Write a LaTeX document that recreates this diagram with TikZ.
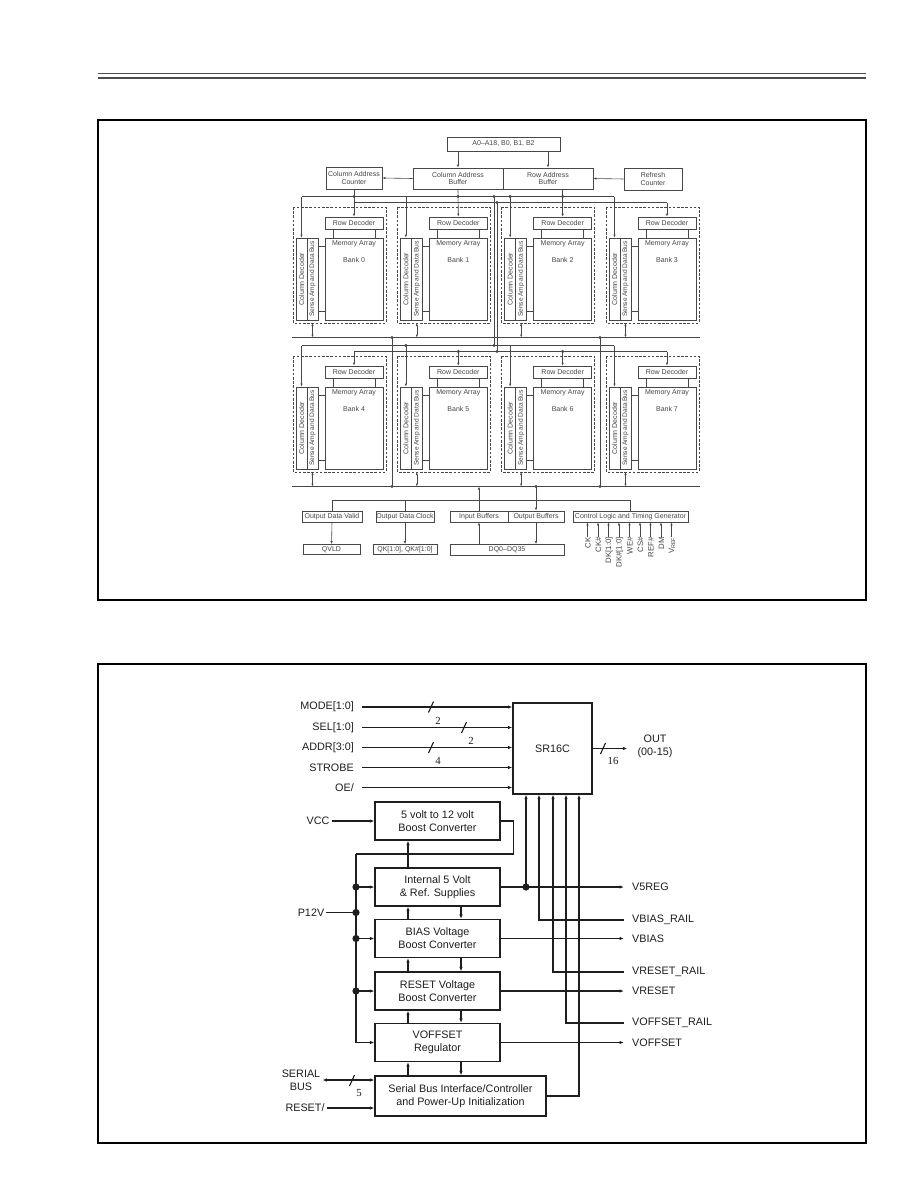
\documentclass[tikz,border=0pt]{standalone}
\usepackage{fontspec}
\setsansfont{Liberation Sans}
\newfontfamily\busnum{Liberation Serif}
\usetikzlibrary{arrows.meta}
\definecolor{ink}{HTML}{1E1E1E}
\definecolor{wire}{HTML}{474747}

\begin{document}
\begin{tikzpicture}[x=1pt,y=-1pt,font=\sffamily,>={Latex[length=4.5pt,width=3.4pt]}]
  \tikzset{blk/.style={draw=wire,line width=0.6pt,inner sep=0pt,align=center,text=wire,font=\sffamily\fontsize{7}{7.8}\selectfont},
    tinytxt/.style={inner sep=0pt,text=wire,font=\sffamily\fontsize{7}{7.8}\selectfont},
    bankframe/.style={draw=wire,line width=0.5pt,dash pattern=on 2.6pt off 1.6pt},
    wirel/.style={draw=wire,line width=0.6pt},
    smallarr/.style={wirel,-{Latex[length=3pt,width=2.3pt]}},
    dblarr/.style={wirel,{Latex[length=3pt,width=2.3pt]}-{Latex[length=3pt,width=2.3pt]}},
    ctlsig/.style={inner sep=0pt,rotate=90,anchor=east,text=wire,font=\sffamily\fontsize{7.8}{8}\selectfont},
    pbox/.style={draw=ink,line width=1.1pt,align=center,minimum width=125pt,minimum height=38pt,inner sep=0pt,text=ink,font=\sffamily\fontsize{10.8}{13}\selectfont},
    sig/.style={inner sep=2pt,align=center,text=ink,font=\sffamily\fontsize{10.8}{13}\selectfont},
    rlbl/.style={sig,anchor=west,inner xsep=8pt},
    lnk/.style={draw=ink,line width=1.1pt},
    busno/.style={inner sep=0pt,text=ink,font=\busnum\fontsize{10.8}{12}\selectfont}}

  \fill[white] (0,0) rectangle (918,1188);
  \useasboundingbox (0,0) rectangle (918,1188);
  \draw[black!70,line width=1pt] (98,74) -- (866,74);
  \draw[black!70,line width=2.6pt] (98,78) -- (866,78);
  \draw[black,line width=1.8pt] (98,120) rectangle (866,600);
  \draw[black,line width=1.8pt] (98,664) rectangle (866,1143);

  % address path
  \node[blk,minimum width=113pt,minimum height=14pt] (addr) at (503.5,144) {A0--A18, B0, B1, B2};
  \node[blk,minimum width=90pt,minimum height=21pt] (cab) at (458,178.5) {Column Address\\Buffer};
  \node[blk,minimum width=90pt,minimum height=21pt] (rab) at (548,178.5) {Row Address\\Buffer};
  \node[blk,minimum width=56pt,minimum height=22pt] (cac) at (354,178) {Column Address\\Counter};
  \node[blk,minimum width=58pt,minimum height=22pt] (rfc) at (653,179) {Refresh\\Counter};
  \draw[smallarr] (addr.south -| cab) -- (cab.north);
  \draw[smallarr] (addr.south -| rab) -- (rab.north);
  \draw[smallarr] (cab.west) -- (cac.east);
  \draw[smallarr] (rfc.west) -- (rab.east);

  % eight banks
  \foreach \bk in {0,...,7}{
    \pgfmathtruncatemacro{\bcol}{mod(\bk,4)}
    \pgfmathtruncatemacro{\brow}{int(\bk/4)}
    \pgfmathsetmacro{\ox}{293+104.33*\bcol}
    \pgfmathsetmacro{\oy}{207+149*\brow}
    \draw[bankframe] (\ox,\oy) rectangle ++(93,116);
    \node[blk,minimum width=58pt,minimum height=12pt] (rd\bk) at (\ox+61,\oy+16) {Row Decoder};
    \node[blk,minimum width=58pt,minimum height=82pt] (ma\bk) at (\ox+61,\oy+72) {};
    \node[blk,minimum width=11pt,minimum height=82pt] (cd\bk) at (\ox+8.5,\oy+72) {};
    \node[blk,minimum width=11pt,minimum height=82pt] (sa\bk) at (\ox+19.5,\oy+72) {};
    \node[tinytxt] (mat\bk) at ([yshift=-6pt]ma\bk.north) {Memory Array};
    \node[tinytxt] (bkt\bk) at ([yshift=-22pt]ma\bk.north) {Bank \bk};
    \node[tinytxt,rotate=90] (cdt\bk) at (cd\bk) {Column Decoder};
    \node[tinytxt,rotate=90,font=\sffamily\fontsize{6.6}{7}\selectfont] (sat\bk) at (sa\bk) {Sense Amp and Data Bus};
    \draw[wirel] ([xshift=-21pt]rd\bk.south) -- ([xshift=-21pt]ma\bk.north);
    \draw[wirel] ([xshift=21pt]rd\bk.south) -- ([xshift=21pt]ma\bk.north);
    \draw[wirel] ([yshift=33pt]sa\bk.east) -- ([yshift=33pt]sa\bk.east -| ma\bk.west);
    \draw[wirel] ([yshift=-32pt]sa\bk.east) -- ([yshift=-32pt]sa\bk.east -| ma\bk.west);
    \coordinate (bb\bk) at (\ox+19.5,\oy+116);
    \draw[dblarr] (bb\bk) -- ++(0,14.5);
    \coordinate (cb\bk) at (\ox+8.5,\oy-10.5);
    \coordinate (rb\bk) at (\ox+61,\oy-4.5);
    \draw[smallarr] (cb\bk) -- (cd\bk.north);
  }

  \draw[wirel] (cb0) -- (cb3);
  \draw[wirel] (rb0) -- (rb3);
  \draw[smallarr] (rb3) -- (rd3.north);
  \draw[smallarr] (cac.south) -- (rd0.north);
  \draw[smallarr] (cab.south) -- (rd1.north);
  \draw[smallarr] (rab.south -| rd2.north) -- (rd2.north);
  \draw[wirel] (cb4) -- (cb7);
  \draw[wirel] (rb4) -- (rb7);
  \foreach \bk in {4,...,7} \draw[smallarr] (rb\bk) -- (rd\bk.north);
  \coordinate (cfeedT) at (494,196.5);
  \coordinate (cfeedB) at (494,345.5);
  \coordinate (rfeedT) at (497,202.5);
  \coordinate (rfeedB) at (497,351.5);
  \draw[wirel] (cfeedT) -- (cfeedB);
  \draw[wirel] (rfeedT) -- (rfeedB);

  % data buses
  \coordinate (dbl1) at (292,337.5);
  \coordinate (dbr1) at (700,337.5);
  \coordinate (dbl2) at (292,486.5);
  \coordinate (dbr2) at (700,486.5);
  \coordinate (dja) at (392,337.5);
  \coordinate (djb) at (392,486.5);
  \coordinate (djc) at (600,337.5);
  \coordinate (djd) at (600,486.5);
  \draw[wirel] (dbl1) -- (dbr1);
  \draw[wirel] (dbl2) -- (dbr2);
  \draw[wirel] (dja) -- (djb);
  \draw[wirel] (djc) -- (djd);

  % buffers and control
  \node[blk,minimum width=60pt,minimum height=11pt] (odv) at (332,516.5) {Output Data Valid};
  \node[blk,minimum width=58pt,minimum height=11pt] (odc) at (405,516.5) {Output Data Clock};
  \node[blk,minimum width=58pt,minimum height=11pt] (ib) at (479,516.5) {Input Buffers};
  \node[blk,minimum width=56pt,minimum height=11pt] (ob) at (536,516.5) {Output Buffers};
  \node[blk,minimum width=115pt,minimum height=11pt] (ctl) at (630.5,516.5) {Control Logic and Timing Generator};
  \node[blk,minimum width=57pt,minimum height=10pt] (qvld) at (331.5,549.5) {QVLD};
  \node[blk,minimum width=64pt,minimum height=10pt] (qk) at (405,549.5) {QK[1:0], QK\#[1:0]};
  \node[blk,minimum width=114pt,minimum height=11pt] (dq) at (507,550) {DQ0--DQ35};
  \draw[wirel] (odv.north) -- ++(0,-10.5) -| (ctl.north);
  \draw[wirel] (odc.north) -- ++(0,-10.5);
  \draw[smallarr] (ib.north) -- (ib.north |- dbl2);
  \draw[smallarr] (ob.north |- dbl2) -- (ob.north);
  \draw[smallarr] (odv.south) -- (qvld.north);
  \draw[smallarr] (odc.south) -- (qk.north);
  \draw[smallarr] (dq.north -| ib.south) -- (ib.south);
  \draw[smallarr] (ob.south) -- (ob.south |- dq.north);
  \foreach \s [count=\i from 0] in {CK,CK\#,{DK[1:0]},{DK\#[1:0]},WE\#,CS\#,REF\#,DM,V\textsubscript{REF}}{
    \node[ctlsig] (cs\i) at (588+10.5*\i,537) {\s};
    \draw[smallarr] ([xshift=-0.5pt]cs\i.east) -- ([xshift=-0.5pt]cs\i.east |- ctl.south);
  }

  \foreach \p in {cfeedT,rfeedT,cb2,cfeedB,rfeedB,cb5,rb5,rb6,dja,djb,djc,djd}
    \fill[wire] (\p) circle (1.7);
  \fill[wire] (cac.south |- cb0) circle (1.7);
  \fill[wire] (cab.south |- cb0) circle (1.7);
  \fill[wire] (rd2.north |- cb0) circle (1.7);
  \fill[wire] (ob.north |- dbl2) circle (1.7);

  % SR16C block
  \node[draw=ink,line width=1.1pt,minimum width=79pt,minimum height=91pt,inner sep=0pt,text=ink,font=\sffamily\fontsize{10.8}{13}\selectfont] (sr) at (552.5,748.5) {SR16C};
  \node[sig,anchor=east] (mode) at (356,707) {MODE[1:0]};
  \node[sig,anchor=east] (sel) at (356,727.5) {SEL[1:0]};
  \node[sig,anchor=east] (addrin) at (356,747.5) {ADDR[3:0]};
  \node[sig,anchor=east] (strobe) at (356,767.5) {STROBE};
  \node[sig,anchor=east] (oe) at (356,787.5) {OE/};
  \draw[lnk,->] ([xshift=6pt]mode.east) -- (mode.east -| sr.west);
  \draw[lnk,->] ([xshift=6pt]sel.east) -- (sel.east -| sr.west);
  \draw[lnk,->] ([xshift=6pt]addrin.east) -- (addrin.east -| sr.west);
  \draw[lnk,->] ([xshift=6pt]strobe.east) -- (strobe.east -| sr.west);
  \draw[lnk,->] ([xshift=6pt]oe.east) -- (oe.east -| sr.west);
  \draw[lnk] (428.5,712.5) -- (433.5,701.5);
  \draw[lnk] (461.5,733) -- (466.5,722);
  \draw[lnk] (428.5,753) -- (433.5,742);
  \node[busno] (wmode) at (438,721) {2};
  \node[busno] (wsel) at (471,741) {2};
  \node[busno] (waddr) at (438,761) {4};
  \node[sig] (outlbl) at (655,746) {OUT\\(00-15)};
  \draw[lnk,->,shorten >=8pt] (sr.east) -- (sr.east -| outlbl.west);
  \draw[lnk] (600.5,754) -- (605.5,743);
  \node[busno] (wout) at (613,761) {16};

  % supplies
  \node[pbox] (boost) at (437.5,821) {5 volt to 12 volt\\Boost Converter};
  \node[pbox] (int5) at (437.5,887) {Internal 5 Volt\\\& Ref. Supplies};
  \node[pbox] (bias) at (437.5,938.5) {BIAS Voltage\\Boost Converter};
  \node[pbox] (rst) at (437.5,991) {RESET Voltage\\Boost Converter};
  \node[pbox] (voff) at (437.5,1042.5) {VOFFSET\\Regulator};
  \node[pbox,minimum width=171pt,minimum height=40pt] (sbus) at (460.5,1096) {Serial Bus Interface/Controller\\and Power-Up Initialization};
  \node[sig] (vcc) at (318,821) {VCC};
  \draw[lnk,->] (vcc.east) -- (boost.west);
  \coordinate (upx) at (408,0);
  \coordinate (dnx) at (461,0);
  \draw[lnk,->] (int5.north -| upx) -- (boost.south -| upx);
  \foreach \lo/\hi in {bias/int5,rst/bias,voff/rst,sbus/voff}{
    \draw[lnk,->] (\lo.north -| upx) -- (\hi.south -| upx);
    \draw[lnk,->] (\hi.south -| dnx) -- (\lo.north -| dnx);
  }
  \coordinate (rtop) at (356,854);
  \draw[lnk] (boost.east) -- ++(13,0) |- (rtop);
  \draw[lnk,->] (rtop) |- (voff.west);
  \foreach \b in {int5,bias,rst}{
    \draw[lnk,->] (\b.west -| rtop) -- (\b.west);
    \fill[ink] (\b.west -| rtop) circle (3.6);
  }
  \node[sig] (p12) at (311,912.5) {P12V};
  \draw[lnk] (p12.east) -- (p12.east -| rtop);
  \fill[ink] (p12.east -| rtop) circle (3.6);

  % outputs and rails
  \node[rlbl] (v5) at (624,887) {V5REG};
  \node[rlbl] (vbr) at (624,920) {VBIAS\_RAIL};
  \node[rlbl] (vb) at (624,938.5) {VBIAS};
  \node[rlbl] (vrr) at (624,972) {VRESET\_RAIL};
  \node[rlbl] (vr) at (624,991) {VRESET};
  \node[rlbl] (vor) at (624,1023) {VOFFSET\_RAIL};
  \node[rlbl] (vo) at (624,1042.5) {VOFFSET};
  \draw[lnk,->] (int5.east) -- (int5.east -| v5.west);
  \coordinate (v5j) at ([xshift=-26.5pt]sr.south |- int5.east);
  \draw[lnk,->] (v5j) -- (v5j |- sr.south);
  \fill[ink] (v5j) circle (3.6);
  \draw[lnk,->] (vbr.west) -| ([xshift=-13.5pt]sr.south);
  \draw[lnk,->] (bias.east) -- (bias.east -| vb.west);
  \draw[lnk,->] (vrr.west) -| ([xshift=0.5pt]sr.south);
  \draw[lnk,->] (rst.east) -- (rst.east -| vr.west);
  \draw[lnk,->] (vor.west) -| ([xshift=13.5pt]sr.south);
  \draw[lnk,->] (voff.east) -- (voff.east -| vo.west);
  \draw[lnk,->] (sbus.east) -| ([xshift=26.5pt]sr.south);

  % serial side
  \node[sig] (serial) at (301,1080) {SERIAL\\BUS};
  \draw[lnk,<->] (serial.east) -- (serial.east -| sbus.west);
  \draw[lnk] (349.5,1086) -- (354.5,1075);
  \node[busno] (wser) at (359,1093) {5};
  \node[sig] (rsti) at (305,1108) {RESET/};
  \draw[lnk,->] (rsti.east) -- (rsti.east -| sbus.west);
\end{tikzpicture}
\end{document}
